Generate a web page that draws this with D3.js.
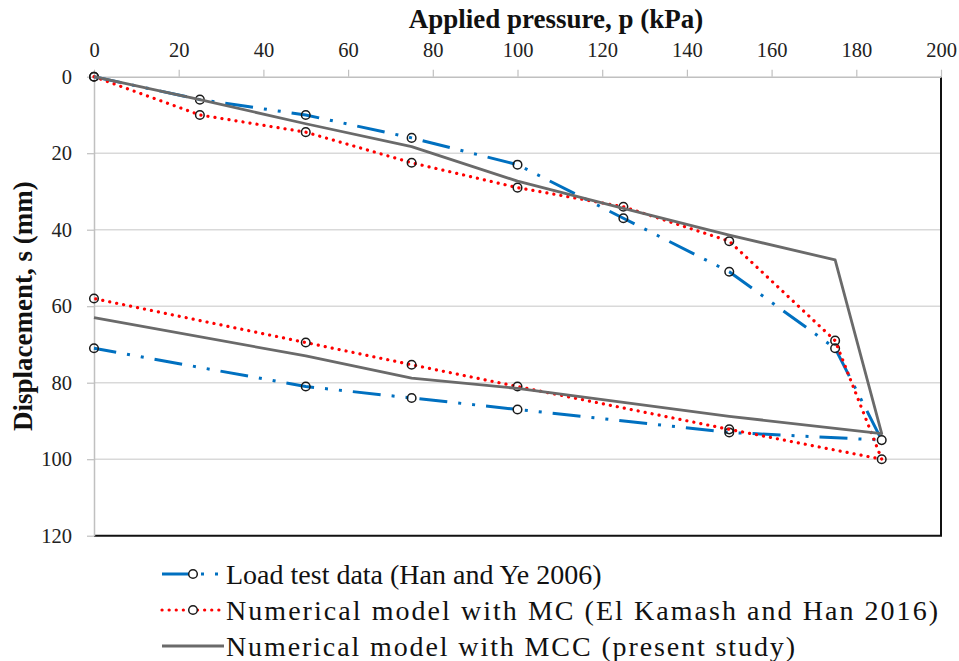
<!DOCTYPE html>
<html>
<head>
<meta charset="utf-8">
<script src="https://cdn.jsdelivr.net/npm/d3@7"></script>
<style>
  html, body { margin: 0; padding: 0; background: #fff; }
  svg { display: block; }
  text { font-family: "Liberation Serif", "Times New Roman", serif; }
</style>
</head>
<body>
<div id="chart"></div>
<script>
// Plate load test: applied pressure (kPa) vs displacement (mm), loading then unloading
const pressureTicks = [0, 20, 40, 60, 80, 100, 120, 140, 160, 180, 200];
const displacementTicks = [0, 20, 40, 60, 80, 100, 120];

const loadTestP = [0, 25, 50, 75, 100, 125, 150, 175, 186, 150, 100, 75, 50, 0];
const loadTestS = [0, 6, 10, 16, 23, 37, 51, 71, 95, 93, 87, 84, 81, 71];

const mcP = [0, 25, 50, 75, 100, 125, 150, 175, 186, 150, 100, 75, 50, 0];
const mcS = [0, 10, 14.5, 22.5, 29, 34, 43, 69, 100, 92.2, 81, 75.3, 69.5, 58];

const mccP = [0, 25, 50, 75, 100, 125, 150, 175, 186, 150, 100, 75, 50, 0];
const mccS = [0, 6, 12.3, 18.3, 27.3, 34.4, 41.4, 47.9, 93.3, 88.8, 81.5, 78.8, 73, 63];

const seriesNames = [
  "Load test data (Han and Ye 2006)",
  "Numerical model with MC (El Kamash and Han 2016)",
  "Numerical model with MCC (present study)"
];

const W = 959, H = 661;
const plot = { left: 94, right: 941, top: 76.7, bottom: 535.7 };
const serif = '"Liberation Serif", "Times New Roman", serif';

const x = d3.scaleLinear().domain([0, 200]).range([plot.left, plot.right]);
const y = d3.scaleLinear().domain([0, 120]).range([plot.top, plot.bottom]);

const svg = d3.select("#chart").append("svg")
  .attr("width", W).attr("height", H);

svg.append("rect").attr("width", W).attr("height", H).attr("fill", "#fff");

// horizontal gridlines
svg.append("g")
  .selectAll("line")
  .data(displacementTicks.filter(d => d > 0 && d < 120))
  .join("line")
  .attr("x1", plot.left).attr("x2", plot.right)
  .attr("y1", d => y(d)).attr("y2", d => y(d))
  .attr("stroke", "#d9d9d9").attr("stroke-width", 1.5);

// frame: black on bottom and right
svg.append("line")
  .attr("x1", plot.left).attr("x2", plot.right + 1)
  .attr("y1", plot.bottom).attr("y2", plot.bottom)
  .attr("stroke", "#111").attr("stroke-width", 2);
svg.append("line")
  .attr("x1", plot.right).attr("x2", plot.right)
  .attr("y1", plot.top).attr("y2", plot.bottom)
  .attr("stroke", "#111").attr("stroke-width", 2);

// top pressure axis
const xAxis = svg.append("g")
  .attr("transform", `translate(0,${plot.top})`)
  .call(d3.axisTop(x).tickValues(pressureTicks).tickSize(7).tickPadding(13).tickSizeOuter(0))
  .attr("font-family", serif).attr("font-size", 20.5);
xAxis.select(".domain").attr("stroke", "#c0c0c0").attr("stroke-width", 1.5);
xAxis.selectAll(".tick line").attr("stroke", "#c0c0c0").attr("stroke-width", 1.2);
xAxis.selectAll(".tick text").attr("fill", "#222");

// left displacement axis
const yAxis = svg.append("g")
  .attr("transform", `translate(${plot.left},0)`)
  .call(d3.axisLeft(y).tickValues(displacementTicks).tickSize(7).tickPadding(15).tickSizeOuter(0))
  .attr("font-family", serif).attr("font-size", 20.5);
yAxis.select(".domain").attr("stroke", "#c0c0c0").attr("stroke-width", 1.5);
yAxis.selectAll(".tick line").attr("stroke", "#c0c0c0").attr("stroke-width", 1.2);
yAxis.selectAll(".tick text").attr("fill", "#222");

// axis titles
svg.append("text")
  .attr("x", 556).attr("y", 28)
  .attr("text-anchor", "middle")
  .attr("font-size", 27).attr("font-weight", "bold").attr("fill", "#111")
  .text("Applied pressure, p (kPa)");

svg.append("text")
  .attr("transform", `translate(32,${(plot.top + plot.bottom) / 2}) rotate(-90)`)
  .attr("text-anchor", "middle")
  .attr("font-size", 27).attr("font-weight", "bold").attr("fill", "#111")
  .text("Displacement, s (mm)");

// series styling
const styles = [
  { color: "#0070c0", width: 3, dash: "28,11,3,11,3,11", cap: "butt", markers: true },
  { color: "#ff0000", width: 3.2, dash: "0.1,7", cap: "round", markers: true },
  { color: "#6a6a6a", width: 2.8, dash: null, cap: "butt", markers: false }
];

const series = [
  { p: loadTestP, s: loadTestS },
  { p: mcP, s: mcS },
  { p: mccP, s: mccS }
];

const line = d3.line().x(d => x(d[0])).y(d => y(d[1]));

series.forEach((ser, i) => {
  const st = styles[i];
  const pts = ser.p.map((p, k) => [p, ser.s[k]]);
  svg.append("path")
    .datum(pts)
    .attr("d", line)
    .attr("fill", "none")
    .attr("stroke", st.color)
    .attr("stroke-width", st.width)
    .attr("stroke-linecap", st.cap)
    .attr("stroke-linejoin", "round")
    .attr("stroke-dasharray", st.dash);
  if (st.markers) {
    svg.append("g")
      .selectAll("circle")
      .data(pts)
      .join("circle")
      .attr("cx", d => x(d[0])).attr("cy", d => y(d[1]))
      .attr("r", 4.3)
      .attr("fill", "none")
      .attr("stroke", "#1a1a1a").attr("stroke-width", 1.5);
  }
});

// legend: sample line with marker, then the label
const legendRows = [574, 610, 646];
const legendTextWidths = [null, 712, 569];
const lg = svg.append("g");
seriesNames.forEach((name, i) => {
  const st = styles[i];
  const yy = legendRows[i];
  lg.append("line")
    .attr("x1", 162).attr("x2", 224)
    .attr("y1", yy).attr("y2", yy)
    .attr("stroke", st.color)
    .attr("stroke-width", st.width)
    .attr("stroke-linecap", st.cap)
    .attr("stroke-dasharray", st.dash);
  if (st.markers) {
    lg.append("circle")
      .attr("cx", 193).attr("cy", yy).attr("r", 4.3)
      .attr("fill", "#fff")
      .attr("stroke", "#1a1a1a").attr("stroke-width", 1.5);
  }
  const t = lg.append("text")
    .attr("x", 226).attr("y", yy).attr("dy", "0.35em")
    .attr("font-size", 28).attr("fill", "#111")
    .text(name);
  if (legendTextWidths[i]) {
    t.attr("textLength", legendTextWidths[i]).attr("lengthAdjust", "spacing");
  }
});
</script>
</body>
</html>
